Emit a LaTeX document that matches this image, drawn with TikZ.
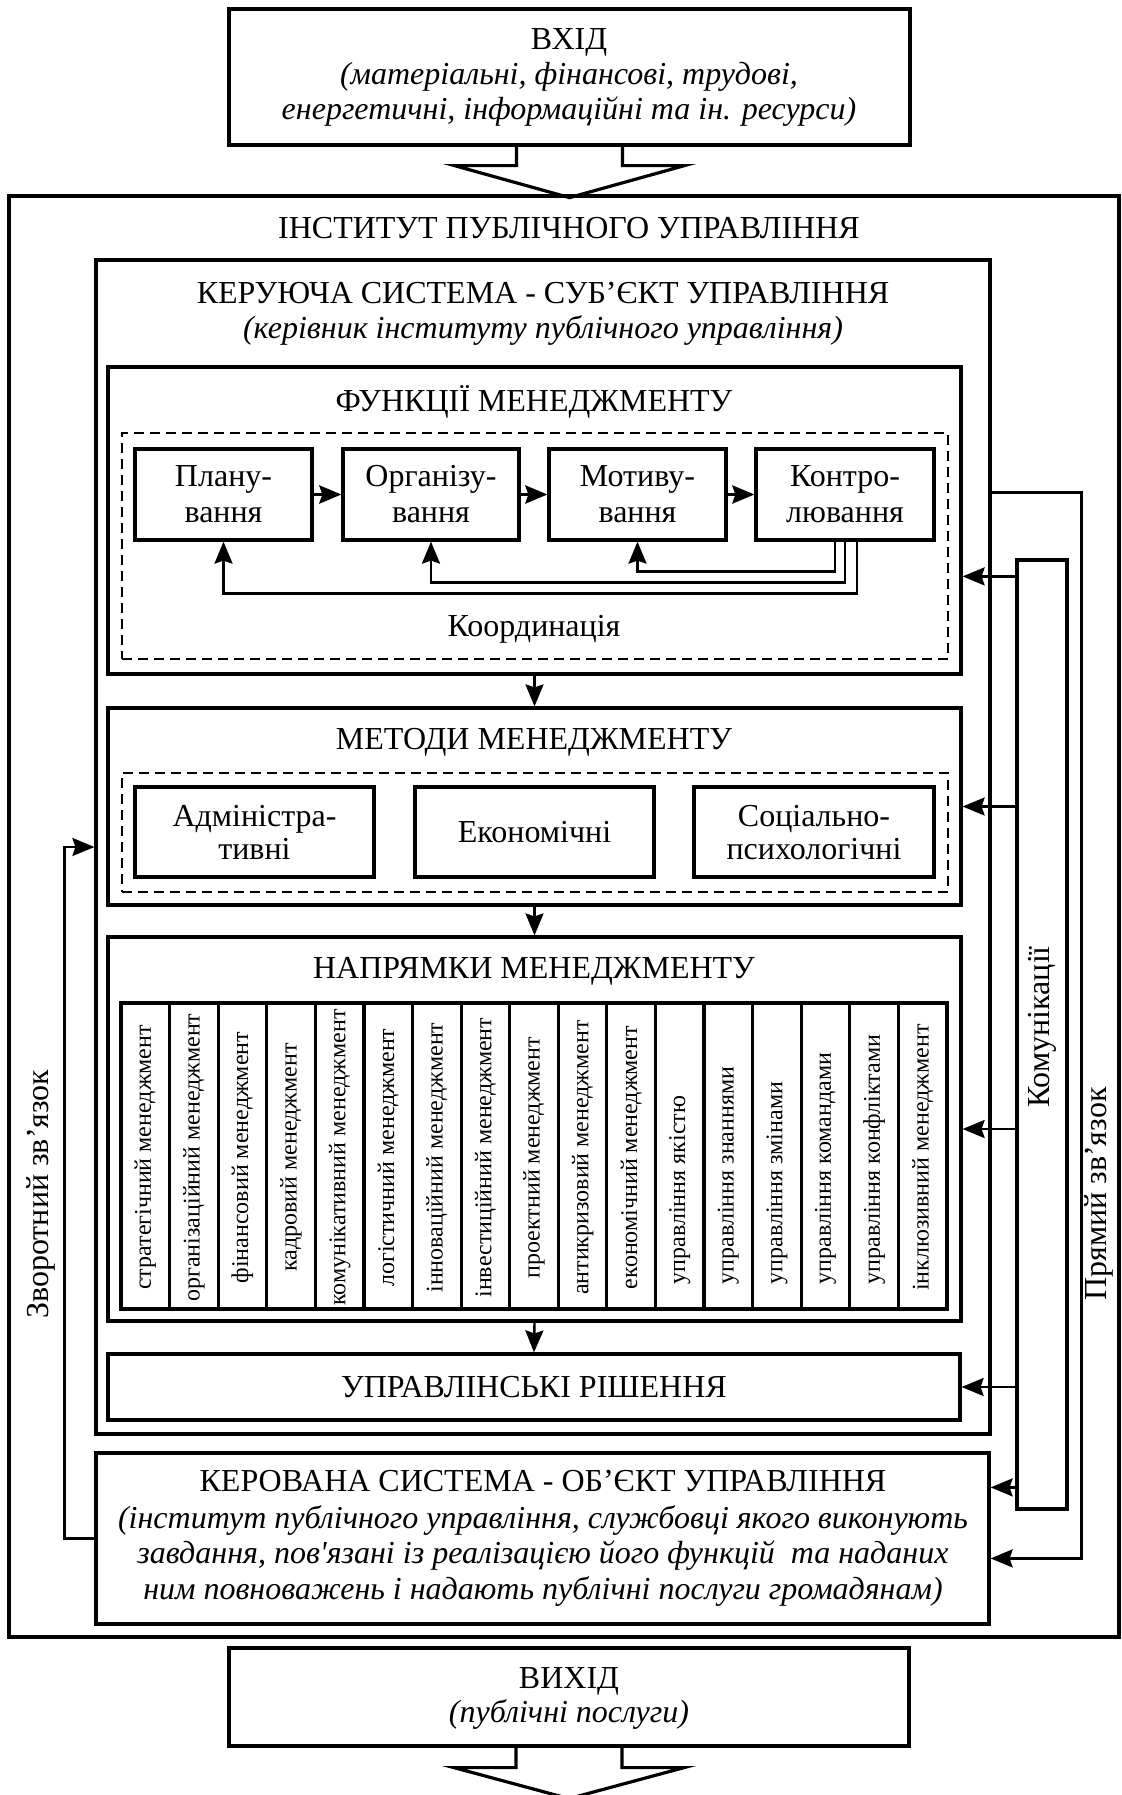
\documentclass[tikz,border=0pt]{standalone}
\usepackage{fontspec}
\setmainfont{Liberation Serif}
\usetikzlibrary{fit,calc,arrows.meta}
\begin{document}
\begin{tikzpicture}[x=0.5pt,y=-0.5pt,
  frame/.style={draw, line width=1.6pt, inner sep=0pt, fit={#1}},
  dframe/.style={draw, line width=1.4pt, dash pattern=on 5pt off 3pt, inner sep=0pt, fit={#1}},
  txt/.style={font=\fontsize{16}{19}\selectfont, anchor=base, inner sep=0pt},
  itx/.style={font=\fontsize{16}{19}\selectfont\itshape, anchor=base, inner sep=0pt},
  coltxt/.style={font=\fontsize{12}{14}\selectfont, rotate=90, inner sep=0pt},
  vtxt/.style={font=\fontsize{16}{19}\selectfont, rotate=90, inner sep=0pt},
  arr/.style={line width=1.2pt, -{Stealth[length=11pt,width=9pt,inset=1.5pt]}},
  hollow/.style={line width=1.6pt, line join=miter},
]
\useasboundingbox (0,0) rectangle (1121,1795);
\fill[white] (0,0) rectangle (1121,1795);

% input block
\node[frame={(229,9) (910,145)}] (vhid) {};
\node[txt] (vhidA) at (569,49) {ВХІД};
\node[itx] (vhidB) at (569,84) {(матеріальні, фінансові, трудові,};
\node[itx] (vhidC) at (569,119) {енергетичні, інформаційні та ін. ресурси)};
\draw[hollow] ($(vhid.south)+(-53,0)$) -- ++(0,19) -- ++(-62,0)
  -- ($(vhid.south)+(0,51)$) -- ++(115,-32) -- ++(-62,0) -- ++(0,-19);

% institution frame
\node[frame={(9,196) (1119,1637)}] (inst) {};
\node[txt] (instT) at (569,238) {ІНСТИТУТ ПУБЛІЧНОГО УПРАВЛІННЯ};

% managing system
\node[frame={(96,260) (990,1434)}] (kerS) {};
\node[txt] (kerT) at (543,303) {КЕРУЮЧА СИСТЕМА - СУБ’ЄКТ УПРАВЛІННЯ};
\node[itx] (kerU) at (543,338) {(керівник інституту публічного управління)};

% management functions
\node[frame={(108,367) (961,674)}] (func) {};
\node[txt] (funcT) at (534,411) {ФУНКЦІЇ МЕНЕДЖМЕНТУ};
\node[dframe={(122,433) (948,659)}] (funcD) {};
\node[frame={(135,449) (312,540)}] (plan) {};
\node[frame={(343,449) (519,540)}] (org) {};
\node[frame={(549,449) (726,540)}] (mot) {};
\node[frame={(756,449) (934,540)}] (kontr) {};
\node[txt] (planA) at (223.5,486) {Плану-};
\node[txt] (planB) at (223.5,522) {вання};
\node[txt] (orgA) at (431,486) {Організу-};
\node[txt] (orgB) at (431,522) {вання};
\node[txt] (motA) at (637.5,486) {Мотиву-};
\node[txt] (motB) at (637.5,522) {вання};
\node[txt] (kontrA) at (845,486) {Контро-};
\node[txt] (kontrB) at (845,522) {лювання};
\draw[arr, line width=1.8pt] (plan.east) -- (org.west);
\draw[arr, line width=1.8pt] (org.east) -- (mot.west);
\draw[arr, line width=1.8pt] (mot.east) -- (kontr.west);
\draw[arr] ($(kontr.south)+(-10,0)$) -- ++(0,30) -| (mot.south);
\draw[arr] (kontr.south) -- ++(0,41) -| (org.south);
\draw[arr] ($(kontr.south)+(12,0)$) -- ++(0,52) -| (plan.south);
\node[txt] (coord) at (534,636) {Координація};

% management methods
\node[frame={(108,708) (961,905)}] (meth) {};
\node[txt] (methT) at (534,749) {МЕТОДИ МЕНЕДЖМЕНТУ};
\node[dframe={(122,773) (948,892)}] (methD) {};
\node[frame={(135,787) (374,877)}] (adm) {};
\node[frame={(415,787) (654,877)}] (eko) {};
\node[frame={(694,787) (934,877)}] (soc) {};
\node[txt] (admA) at (254.5,826) {Адміністра-};
\node[txt] (admB) at (254.5,859) {тивні};
\node[txt] (ekoA) at (534.5,842) {Економічні};
\node[txt] (socA) at (814,826) {Соціально-};
\node[txt] (socB) at (814,859) {психологічні};

% management directions
\node[frame={(108,937) (961,1321)}] (dir) {};
\node[txt] (dirT) at (534,978) {НАПРЯМКИ МЕНЕДЖМЕНТУ};
\foreach \t/\an/\o [count=\i, evaluate=\i as \xl using 121+(\i-1)*48.588,
    evaluate=\i as \xr using 121+\i*48.588] in {
  стратегічний менеджмент/center/153,
  організаційний менеджмент/center/153,
  фінансовий менеджмент/center/153,
  кадровий менеджмент/center/153,
  комунікативний менеджмент/center/153,
  логістичний менеджмент/center/153,
  інноваційний менеджмент/center/153,
  інвестиційний менеджмент/center/153,
  проектний менеджмент/center/153,
  антикризовий менеджмент/center/153,
  економічний менеджмент/center/153,
  управління якістю/west/26,
  управління знаннями/west/26,
  управління змінами/west/26,
  управління командами/west/26,
  управління конфліктами/west/26,
  інклюзивний менеджмент/center/153}
{
  \node[frame={(\xl,1003) (\xr,1309)}] (col\i) {};
  \node[coltxt, anchor=\an] (colT\i) at ($(col\i.south)+(0,-\o)$) {\t};
}

% management decisions
\node[frame={(108,1354) (960,1420)}] (rish) {};
\node[txt] (rishT) at (534,1397) {УПРАВЛІНСЬКІ РІШЕННЯ};

\draw[arr] (func.south) -- (meth.north);
\draw[arr] (meth.south) -- (dir.north);
\draw[arr] (dir.south) -- (rish.north);

% managed system
\node[frame={(96,1453) (989,1624)}] (kerov) {};
\node[txt] (kvA) at (543,1491) {КЕРОВАНА СИСТЕМА - ОБ’ЄКТ УПРАВЛІННЯ};
\node[itx] (kvB) at (543,1528) {(інститут публічного управління, службовці якого виконують};
\node[itx] (kvC) at (543,1563) {завдання, пов\textquotesingle язані із реалізацією його функцій~ та наданих};
\node[itx] (kvD) at (543,1599) {ним повноважень і надають публічні послуги громадянам)};

% output block
\node[frame={(229,1648) (909,1746)}] (vyh) {};
\node[txt] (vyhA) at (569,1688) {ВИХІД};
\node[itx] (vyhB) at (569,1722) {(публічні послуги)};
\draw[hollow] ($(vyh.south)+(-53,0)$) -- ++(0,20) -- ++(-62,0)
  -- ($(vyh.south)+(0,51)$) -- ++(115,-31) -- ++(-62,0) -- ++(0,-20);

% communications
\node[frame={(1017,560) (1067,1509)}] (komm) {};
\node[vtxt] (kommT) at (1042,1027) {Комунікації};
\coordinate (fIn) at ($(func.north east)+(0,211)$);
\coordinate (kIn) at ($(kerov.north east)+(0,36)$);
\draw[arr] (komm.west |- fIn) -- (fIn);
\draw[arr] (komm.west |- meth.east) -- (meth.east);
\draw[arr] (komm.west |- dir.east) -- (dir.east);
\draw[arr] (komm.west |- rish.east) -- (rish.east);
\draw[arr] (komm.west |- kIn) -- (kIn);

% direct link
\draw[arr] ($(kerS.north east)+(0,234)$) -- ++(90,0) |- ($(kerov.north east)+(0,107)$);
\node[vtxt] (direct) at (1099,1194) {Прямий зв’язок};

% feedback
\draw[arr] (kerov.west) -- ++(-30,0) |- (kerS.west);
\node[vtxt] (fb) at (41,1194) {Зворотний зв’язок};
\end{tikzpicture}
\end{document}
